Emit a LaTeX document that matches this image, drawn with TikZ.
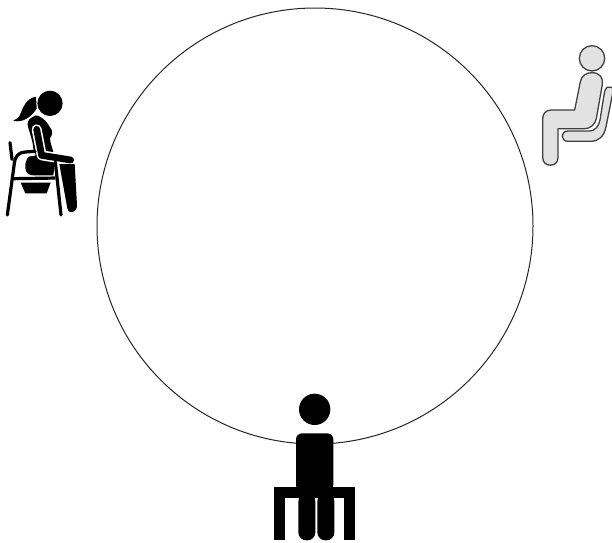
\documentclass[tikz,border=0pt]{standalone}
\usepackage{tikz}
\definecolor{Seat}{HTML}{E2E2E2}
\definecolor{Rim}{HTML}{404040}
\begin{document}
\begin{tikzpicture}[
  x=1pt,y=-1pt,
  ring/.style={draw=black!85,line width=1pt},
  solid/.style={fill=black,draw=none},
  pale/.style={fill=Seat,draw=Rim,line width=1.3pt,line join=round},
  tube/.style={draw=black,line width=3.2pt,line cap=round,line join=round},
  halo/.style={draw=white,line width=5.6pt,line join=round}
]
\useasboundingbox (0,0) rectangle (612,542);
\fill[white] (0,0) rectangle (612,542);
\draw[ring] (315,226) circle (218);
% woman on the left
\begin{scope}[shift={(0,80)},scale=1/3]
\fill[solid] (150,70) circle (38);
\fill[solid] (108,50) .. controls (78,55) and (68,85) .. (62,100) .. controls (58,112) and (50,118) .. (40,122)
  .. controls (65,130) and (95,112) .. (110,85) -- cycle;
\fill[solid] (108,106) .. controls (92,112) and (80,122) .. (83,135) .. controls (90,165) and (102,190) .. (100,218)
  .. controls (82,228) and (74,245) .. (76,265) .. controls (78,280) and (88,286) .. (100,286) -- (160,286)
  -- (166,240) .. controls (160,210) and (150,190) .. (150,175) .. controls (158,165) and (158,152) .. (152,145)
  .. controls (142,128) and (132,112) .. (108,106) -- cycle;
\draw[halo,line width=10pt,line cap=round] (110,148) -- (125,226) -- (212,240);
\draw[tube,line width=6.8pt] (110,148) -- (125,226) -- (212,240);
\draw[halo] (43,298) -- (60,226) -- (105,218);
\draw[tube] (30,188) -- (36,238);
\draw[tube] (22,405) -- (43,250) .. controls (46,228) and (55,218) .. (75,216) -- (105,214);
\draw[tube] (42,296) -- (172,294);
\draw[halo] (170,250) -- (186,405);
\draw[tube] (166,246) -- (183,405);
\fill[solid] (62,308) -- (152,308) -- (140,340) -- (76,340) -- cycle;
\fill[solid] (178,252) -- (224,252) -- (231,375) .. controls (232,398) and (206,405) .. (202,385) -- cycle;
\end{scope}
% man on the right
\begin{scope}[shift={(532,35)},scale=1/3]
\draw[pale] (225,157) .. controls (232,155) and (244,155) .. (244,165) -- (222,275)
  .. controls (216,305) and (200,319) .. (175,319) -- (108,319) .. controls (85,319) and (85,288) .. (108,288)
  -- (170,288) .. controls (192,288) and (200,272) .. (204,255) -- (216,180) .. controls (218,168) and (220,160) .. (225,157) -- cycle;
\draw[pale] (180,113) .. controls (205,113) and (214,130) .. (211,148) -- (194,245)
  .. controls (190,268) and (178,281) .. (155,281) -- (78,281) -- (78,368)
  .. controls (78,398) and (32,398) .. (32,368) -- (32,252) .. controls (32,235) and (42,225) .. (58,225) -- (128,225)
  -- (145,140) .. controls (149,122) and (162,113) .. (180,113) -- cycle;
\draw[pale] (180,70) circle (38);
\end{scope}
% man at the bottom
\begin{scope}[shift={(260,385)},scale=1/3]
\fill[solid] (164,73) circle (47);
\fill[solid] (43,306) rectangle (285,338);
\fill[solid] (43,306) rectangle (75,466);
\fill[solid] (252,306) rectangle (285,466);
\fill[solid,rounded corners=6pt] (108,145) rectangle (220,318);
\fill[solid,rounded corners=8pt] (115,325) rectangle (166,466);
\fill[solid,rounded corners=8pt] (172,325) rectangle (223,466);
\end{scope}
\end{tikzpicture}
\end{document}
